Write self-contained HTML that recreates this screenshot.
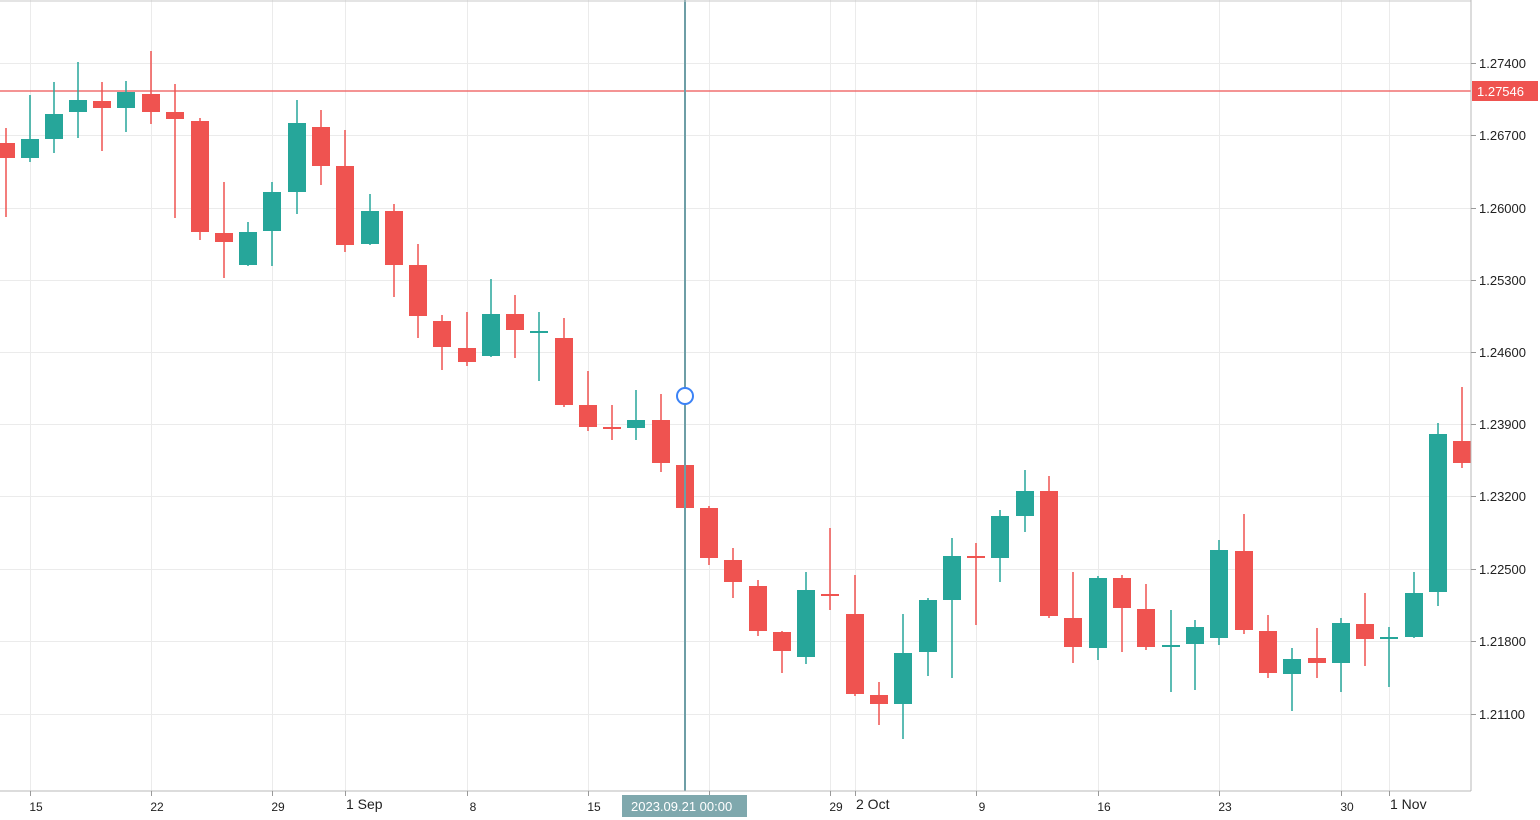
<!DOCTYPE html>
<html><head><meta charset="utf-8"><style>
html,body{margin:0;padding:0;background:#fff;width:1540px;height:820px;overflow:hidden}
svg text{font-family:"Liberation Sans",Arial,sans-serif;font-size:13px;fill:#222}
</style></head><body>
<svg id="c" width="1540" height="820" xmlns="http://www.w3.org/2000/svg">
<rect x="0" y="0" width="1540" height="820" fill="#fff"/>
<g id="grid" stroke="#ebebeb" stroke-width="1"></g>
<line x1="0" y1="91" x2="1471" y2="91" stroke="#f07070" stroke-width="1.5"/>
<g id="candles"></g>
<line x1="685" y1="0" x2="685" y2="791" stroke="#6e9ea6" stroke-width="2"/>
<circle cx="685" cy="396" r="8" fill="#fff" stroke="#3b82f6" stroke-width="2"/>
<line x1="0" y1="1" x2="1471" y2="1" stroke="#c8c8c8"/>
<line x1="1471" y1="0" x2="1471" y2="791" stroke="#b8b8b8"/>
<line x1="0" y1="791" x2="1471" y2="791" stroke="#b8b8b8"/>
<g id="axis"></g>
<rect x="1472" y="81" width="66" height="20" fill="#ef5350"/>
<text x="1477" y="96" style="fill:#fff">1.27546</text>
<rect x="622" y="795" width="125" height="22" fill="#7fa8ad"/>
<text x="631" y="811" style="fill:#fff">2023.09.21 00:00</text>
</svg>
<script>
var ns="http://www.w3.org/2000/svg";
function el(p,t,a){var e=document.createElementNS(ns,t);for(var k in a)e.setAttribute(k,a[k]);p.appendChild(e);return e;}
var grid=document.getElementById('grid'),axis=document.getElementById('axis'),cg=document.getElementById('candles');
var hy=[63,135,208,280,352,424,496,569,641,714],hl=['1.27400','1.26700','1.26000','1.25300','1.24600','1.23900','1.23200','1.22500','1.21800','1.21100'];
hy.forEach(function(y,i){el(grid,'line',{x1:0,y1:y+.5,x2:1471,y2:y+.5});el(axis,'line',{x1:1471,y1:y+.5,x2:1476,y2:y+.5,stroke:'#999'});var t=el(axis,'text',{x:1479,y:y+5});t.textContent=hl[i];});
var vx=[[30,'15'],[151,'22'],[272,'29'],[345,'1 Sep'],[467,'8'],[588,'15'],[709,''],[830,'29'],[855,'2 Oct'],[976,'9'],[1098,'16'],[1219,'23'],[1341,'30'],[1389,'1 Nov']];
vx.forEach(function(v){el(grid,'line',{x1:v[0]+.5,y1:0,x2:v[0]+.5,y2:791});el(axis,'line',{x1:v[0]+.5,y1:791,x2:v[0]+.5,y2:796,stroke:'#999'});if(v[1]){var big=v[1].length>2;var t;if(big){t=el(axis,'text',{x:v[0]+1,y:809});t.style.fontSize='14px';}else{t=el(axis,'text',{x:v[0]+6,y:811,'text-anchor':'middle'});t.style.fontSize='12px';}t.textContent=v[1];}});
var d=[[6,'r',143,158,128,217],[30,'g',139,158,95,162],[54,'g',114,139,82,153],[78,'g',100,112,62,138],[102,'r',101,108,82,151],[126,'g',92,108,81,132],[151,'r',94,112,51,124],[175,'r',112,119,84,218],[200,'r',121,232,118,240],[224,'r',233,242,182,278],[248,'g',232,265,222,266],[272,'g',192,231,182,266],[297,'g',123,192,100,214],[321,'r',127,166,110,185],[345,'r',166,245,130,252],[370,'g',211,244,194,245],[394,'r',211,265,204,297],[418,'r',265,316,244,338],[442,'r',321,347,315,370],[467,'r',348,362,312,366],[491,'g',314,356,279,357],[515,'r',314,330,295,358],[539,'g',331,333,312,381],[564,'r',338,405,318,407],[588,'r',405,427,371,431],[612,'r',427,428,405,440],[636,'g',420,428,390,440],[661,'r',420,463,394,472],[685,'r',465,508,465,510],[709,'r',508,558,506,565],[733,'r',560,582,548,598],[758,'r',586,631,580,636],[782,'r',632,651,631,673],[806,'g',590,657,572,664],[830,'r',594,595,528,610],[855,'r',614,694,575,696],[879,'r',695,704,682,725],[903,'g',653,704,614,739],[928,'g',600,652,598,676],[952,'g',556,600,538,678],[976,'r',556,558,543,625],[1000,'g',516,558,510,582],[1025,'g',491,516,470,532],[1049,'r',491,616,476,618],[1073,'r',618,647,572,663],[1098,'g',578,648,576,660],[1122,'r',578,608,575,652],[1146,'r',609,647,584,650],[1171,'g',645,647,610,692],[1195,'g',627,644,620,690],[1219,'g',550,638,540,645],[1244,'r',551,630,514,634],[1268,'r',631,673,615,678],[1292,'g',659,674,648,711],[1317,'r',658,663,628,678],[1341,'g',623,663,618,692],[1365,'r',624,639,593,666],[1389,'g',637,638,627,687],[1414,'g',593,637,572,638],[1438,'g',434,592,423,606],[1462,'r',441,463,387,468]];
d.forEach(function(c){var col=c[1]=='r'?'#ef5350':'#26a69a';el(cg,'line',{x1:c[0],y1:c[4],x2:c[0],y2:c[5],stroke:col,'stroke-width':1.5});el(cg,'rect',{x:c[0]-9,y:c[2],width:18,height:Math.max(2,c[3]-c[2]),fill:col});});
</script>
</body></html>
